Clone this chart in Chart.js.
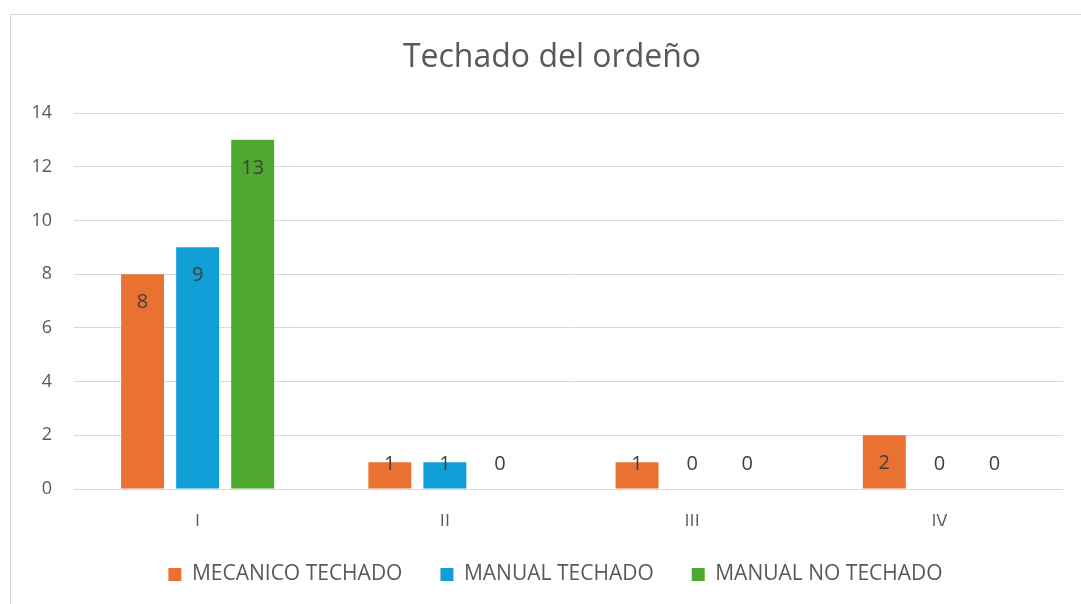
<!DOCTYPE html>
<html>
<head>
<meta charset="utf-8">
<script src="https://cdn.jsdelivr.net/npm/chart.js@4"></script>
<style>
  html, body { margin: 0; padding: 0; background: #fff; }
  #wrap { width: 1081px; height: 604px; }
</style>
</head>
<body>
<div id="wrap"><canvas id="chart" width="1081" height="604"></canvas></div>
<script>
const chartTitle = "Techado del ordeño";
const categories = ["I", "II", "III", "IV"];
const mecanicoTechado = [8, 1, 1, 2];
const manualTechado = [9, 1, 0, 0];
const manualNoTechado = [13, 0, 0, 0];
const yTicks = [0, 2, 4, 6, 8, 10, 12, 14];

const FONT = "'Open Sans', sans-serif";

// white background, light frame and the title (frame is cropped on the right)
const framePlugin = {
  id: "frame",
  afterLayout: (chart) => {
    // the original legend is centred on the uncropped frame, a bit right of ours
    chart.legend.left += 24;
    chart.legend.right += 24;
  },
  beforeDraw: (chart) => {
    const { ctx } = chart;
    ctx.save();
    ctx.fillStyle = "#ffffff";
    ctx.fillRect(0, 0, chart.width, chart.height);
    ctx.strokeStyle = "#d9d9d9";
    ctx.lineWidth = 1;
    ctx.beginPath();
    ctx.moveTo(10.5, chart.height);
    ctx.lineTo(10.5, 14.5);
    ctx.lineTo(chart.width, 14.5);
    ctx.stroke();
    ctx.font = "32px " + FONT;
    ctx.fillStyle = "#595959";
    ctx.textAlign = "center";
    ctx.textBaseline = "middle";
    ctx.fillText(chartTitle, 552, 58);
    ctx.restore();
  },
};

// value labels at the inside end of each bar
const labelPlugin = {
  id: "barLabels",
  afterDatasetsDraw: (chart) => {
    const { ctx } = chart;
    const base = chart.scales.y.getPixelForValue(0);
    ctx.save();
    ctx.font = "20px " + FONT;
    ctx.fillStyle = "#404040";
    ctx.textAlign = "center";
    ctx.textBaseline = "middle";
    chart.data.datasets.forEach((ds, i) => {
      const meta = chart.getDatasetMeta(i);
      meta.data.forEach((bar, j) => {
        const y = Math.min(bar.y + 28, base - 25);
        ctx.fillText(String(ds.data[j]), bar.x, y);
      });
    });
    ctx.restore();
  },
};

new Chart(document.getElementById("chart"), {
  type: "bar",
  data: {
    labels: categories,
    datasets: [
      { label: "MECANICO TECHADO", data: mecanicoTechado, backgroundColor: "#E97132" },
      { label: "MANUAL TECHADO", data: manualTechado, backgroundColor: "#0F9ED5" },
      { label: "MANUAL NO TECHADO", data: manualNoTechado, backgroundColor: "#4EA72E" },
    ],
  },
  options: {
    responsive: false,
    animation: false,
    devicePixelRatio: 1,
    layout: { padding: { left: 0, right: 18, top: 113, bottom: 9 } },
    datasets: {
      bar: { categoryPercentage: 0.668, barPercentage: 0.78 },
    },
    scales: {
      x: {
        grid: { display: false },
        border: { display: false },
        ticks: { color: "#595959", font: { family: FONT, size: 18 }, padding: 14 },
        afterFit: (scale) => { scale.height = 37; },
      },
      y: {
        min: 0,
        max: 14,
        afterBuildTicks: (scale) => { scale.ticks = yTicks.map((v) => ({ value: v })); },
        grid: { color: "#d9d9d9", drawTicks: false, lineWidth: 1 },
        border: { display: false },
        ticks: { color: "#595959", font: { family: FONT, size: 18 }, padding: 22 },
        afterFit: (scale) => { scale.width = 74; },
      },
    },
    plugins: {
      title: { display: false },
      legend: {
        position: "bottom",
        labels: {
          color: "#595959",
          font: { family: FONT, size: 21 },
          boxWidth: 13,
          boxHeight: 13,
          padding: 38,
        },
      },
      tooltip: { enabled: false },
    },
  },
  plugins: [framePlugin, labelPlugin],
});
</script>
</body>
</html>
